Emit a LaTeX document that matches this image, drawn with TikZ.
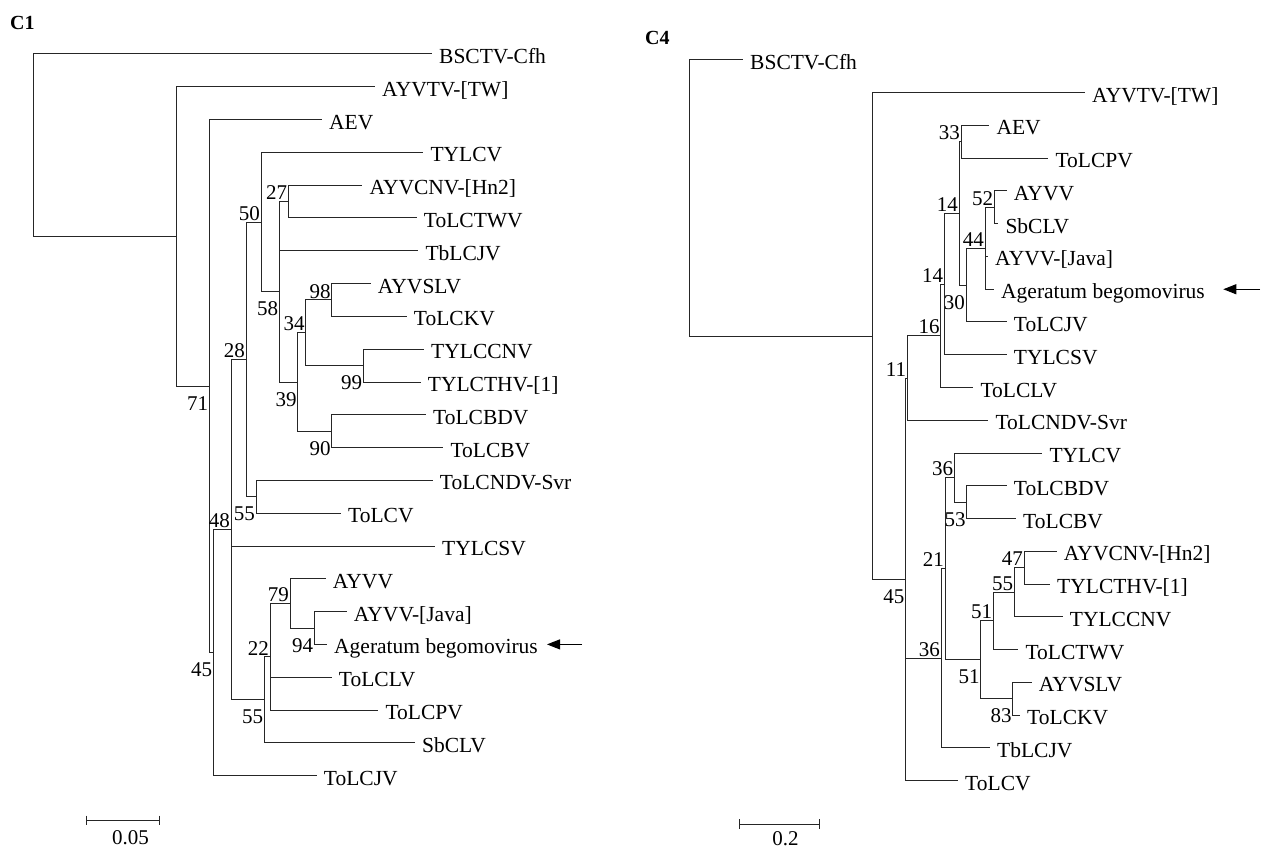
\documentclass[tikz,border=0pt]{standalone}
\usepackage{fontspec}
\setmainfont{Liberation Serif}
\usetikzlibrary{arrows.meta}
\begin{document}
\begin{tikzpicture}[x=1pt,y=-1pt,
 br/.style={draw=black!85, line width=1pt},
 tiplab/.style={anchor=base west, inner xsep=7pt, inner ysep=0pt, yshift=-9.5pt, font=\fontsize{21.5}{24}\selectfont},
 bsa/.style={anchor=south east, inner sep=0pt, xshift=-1pt, yshift=1.5pt, font=\fontsize{21}{24}\selectfont},
 bsb/.style={anchor=north east, inner sep=0pt, xshift=-1pt, yshift=-10pt, font=\fontsize{21}{24}\selectfont},
 ttl/.style={anchor=base west, inner sep=0pt, font=\fontsize{20}{24}\selectfont\bfseries},
 sclab/.style={anchor=base, inner sep=0pt, font=\fontsize{21}{24}\selectfont},
 pointer/.style={draw=black, line width=1pt, -{Triangle[length=13pt,width=10pt]}}]
\useasboundingbox (0,0) rectangle (1261,850);
\newcommand\tipnode[4]{\coordinate (#1) at (#2,#3); \node[tiplab] (#1L) at (#1) {#4};}
% ================= C1 =================
\node[ttl] (titleC1) at (10,30) {C1};
\tipnode{a0}{432}{54.0}{BSCTV-Cfh}
\tipnode{a1}{375}{86.8}{AYVTV-[TW]}
\tipnode{a2}{322}{119.6}{AEV}
\tipnode{a3}{423.3}{152.4}{TYLCV}
\tipnode{a4}{362.3}{185.2}{AYVCNV-[Hn2]}
\tipnode{a5}{416.7}{218.0}{ToLCTWV}
\tipnode{a6}{418.3}{250.8}{TbLCJV}
\tipnode{a7}{370.7}{283.6}{AYVSLV}
\tipnode{a8}{406.7}{316.4}{ToLCKV}
\tipnode{a9}{424}{349.2}{TYLCCNV}
\tipnode{a10}{420.7}{382.0}{TYLCTHV-[1]}
\tipnode{a11}{426}{414.8}{ToLCBDV}
\tipnode{a12}{443.3}{447.6}{ToLCBV}
\tipnode{a13}{432.7}{480.4}{ToLCNDV-Svr}
\tipnode{a14}{341}{513.2}{ToLCV}
\tipnode{a15}{435}{546.0}{TYLCSV}
\tipnode{a16}{325.7}{578.8}{AYVV}
\tipnode{a17}{346.7}{611.6}{AYVV-[Java]}
\tipnode{a18}{327}{644.4}{Ageratum begomovirus}
\tipnode{a19}{331.7}{677.2}{ToLCLV}
\tipnode{a20}{378.3}{710.0}{ToLCPV}
\tipnode{a21}{415}{742.8}{SbCLV}
\tipnode{a22}{316.7}{775.6}{ToLCJV}
\coordinate (N98) at (331.7,300.0);
\coordinate (N99) at (363.3,365.6);
\coordinate (N34) at (305.7,332.8);
\coordinate (N90) at (331.7,431.2);
\coordinate (N39) at (297.7,382.0);
\coordinate (N27) at (288.3,201.6);
\coordinate (N58) at (279.3,291.8);
\coordinate (N50) at (261.0,222.1);
\coordinate (N55a) at (256.0,496.8);
\coordinate (N28) at (246.0,359.45);
\coordinate (N94) at (314.3,628.0);
\coordinate (N79) at (290.0,603.4);
\coordinate (N22) at (270.0,656.7);
\coordinate (N55b) at (264.3,699.75);
\coordinate (N48) at (231.0,529.6);
\coordinate (N45) at (213.3,652.6);
\coordinate (N71) at (209.3,386.1);
\coordinate (NA) at (176.7,236.45);
\coordinate (R1) at (33.5,145.2);
\draw[br] (R1) |- (a0); \draw[br] (R1) |- (NA);
\draw[br] (NA) |- (a1); \draw[br] (NA) |- (N71);
\draw[br] (N71) |- (a2); \draw[br] (N71) |- (N45);
\draw[br] (N45) |- (N48); \draw[br] (N45) |- (a22);
\draw[br] (N48) |- (N28); \draw[br] (N48) |- (a15); \draw[br] (N48) |- (N55b);
\draw[br] (N28) |- (N50); \draw[br] (N28) |- (N55a);
\draw[br] (N50) |- (a3); \draw[br] (N50) |- (N58);
\draw[br] (N58) |- (N27); \draw[br] (N58) |- (a6); \draw[br] (N58) |- (N39);
\draw[br] (N27) |- (a4); \draw[br] (N27) |- (a5);
\draw[br] (N39) |- (N34); \draw[br] (N39) |- (N90);
\draw[br] (N34) |- (N98); \draw[br] (N34) |- (N99);
\draw[br] (N98) |- (a7); \draw[br] (N98) |- (a8);
\draw[br] (N99) |- (a9); \draw[br] (N99) |- (a10);
\draw[br] (N90) |- (a11); \draw[br] (N90) |- (a12);
\draw[br] (N55a) |- (a13); \draw[br] (N55a) |- (a14);
\draw[br] (N55b) |- (N22); \draw[br] (N55b) |- (a21);
\draw[br] (N22) |- (N79); \draw[br] (N22) |- (a19); \draw[br] (N22) |- (a20);
\draw[br] (N79) |- (a16); \draw[br] (N79) |- (N94);
\draw[br] (N94) |- (a17); \draw[br] (N94) |- (a18);
\node[bsb] (b71) at (N71) {71};
\node[bsa] (b50) at (N50) {50};
\node[bsa] (b27) at (N27) {27};
\node[bsb] (b58) at (N58) {58};
\node[bsa] (b34) at (N34) {34};
\node[bsb] (b39) at (N39) {39};
\node[bsa] (b98) at (N98) {98};
\node[bsb] (b99) at (N99) {99};
\node[bsb] (b90) at (N90) {90};
\node[bsb] (b55a) at (N55a) {55};
\node[bsa] (b28) at (N28) {28};
\node[bsa] (b48) at (N48) {48};
\node[bsa] (b79) at (N79) {79};
\node[bsb] (b94) at (N94) {94};
\node[bsa] (b22) at (N22) {22};
\node[bsb] (b55b) at (N55b) {55};
\node[bsb] (b45) at (N45) {45};
\coordinate (arr1s) at (582,644.4);
\coordinate (arr1e) at (547,644.4);
\draw[pointer] (arr1s) -- (arr1e);
\coordinate (sc1a) at (86,820);
\coordinate (sc1b) at (159.3,820);
\draw[br] (sc1a) -- (sc1b);
\draw[br] ([yshift=4.5pt]sc1a) -- ([yshift=-4.5pt]sc1a);
\draw[br] ([yshift=4.5pt]sc1b) -- ([yshift=-4.5pt]sc1b);
\node[sclab] (sc1l) at (130.5,844) {0.05};
% ================= C4 =================
\node[ttl] (titleC4) at (645,45) {C4};
\tipnode{c0}{743}{60}{BSCTV-Cfh}
\tipnode{c1}{1085}{92.75}{AYVTV-[TW]}
\tipnode{c2}{989.3}{125.5}{AEV}
\tipnode{c3}{1048.3}{158.25}{ToLCPV}
\tipnode{c4}{1006.7}{191}{AYVV}
\tipnode{c5}{998.3}{223.75}{SbCLV}
\tipnode{c6}{988}{256.5}{AYVV-[Java]}
\tipnode{c7}{994}{289.25}{Ageratum begomovirus}
\tipnode{c8}{1006.7}{322}{ToLCJV}
\tipnode{c9}{1006.7}{354.75}{TYLCSV}
\tipnode{c10}{973.3}{387.5}{ToLCLV}
\tipnode{c11}{988.3}{420.25}{ToLCNDV-Svr}
\tipnode{c12}{1042.3}{453}{TYLCV}
\tipnode{c13}{1006.7}{485.75}{ToLCBDV}
\tipnode{c14}{1016}{518.5}{ToLCBV}
\tipnode{c15}{1056.7}{551.25}{AYVCNV-[Hn2]}
\tipnode{c16}{1050}{584}{TYLCTHV-[1]}
\tipnode{c17}{1062.7}{616.75}{TYLCCNV}
\tipnode{c18}{1018.3}{649.5}{ToLCTWV}
\tipnode{c19}{1031.7}{682.25}{AYVSLV}
\tipnode{c20}{1020}{715}{ToLCKV}
\tipnode{c21}{990}{747.75}{TbLCJV}
\tipnode{c22}{958}{780.5}{ToLCV}
\coordinate (M33) at (961,141.9);
\coordinate (M52) at (994.3,207.4);
\coordinate (M44) at (985,248.3);
\coordinate (M30) at (966,285.15);
\coordinate (M14u) at (959,213.5);
\coordinate (M14l) at (944.3,284.1);
\coordinate (M16) at (940.7,335.8);
\coordinate (M11) at (907.2,378);
\coordinate (M53) at (966.7,502.1);
\coordinate (M36u) at (954.3,477.6);
\coordinate (M47) at (1024,567.6);
\coordinate (M55) at (1014.3,592.2);
\coordinate (M51u) at (993.3,620.85);
\coordinate (M83) at (1012.7,698.6);
\coordinate (M51l) at (980.7,659.7);
\coordinate (M21) at (945,568.65);
\coordinate (M36l) at (941,658.2);
\coordinate (M45) at (905.5,579.25);
\coordinate (MA) at (872.5,336);
\coordinate (R4) at (689.3,198);
\draw[br] (R4) |- (c0); \draw[br] (R4) |- (MA);
\draw[br] (MA) |- (c1); \draw[br] (MA) |- (M45);
\draw[br] (M45) |- (M11); \draw[br] (M45) |- (M36l); \draw[br] (M45) |- (c22);
\draw[br] (M11) |- (M16); \draw[br] (M11) |- (c11);
\draw[br] (M16) |- (M14l); \draw[br] (M16) |- (c10);
\draw[br] (M14l) |- (M14u); \draw[br] (M14l) |- (c9);
\draw[br] (M14u) |- (M33); \draw[br] (M14u) |- (M30);
\draw[br] (M33) |- (c2); \draw[br] (M33) |- (c3);
\draw[br] (M30) |- (M44); \draw[br] (M30) |- (c8);
\draw[br] (M44) |- (M52); \draw[br] (M44) |- (c6); \draw[br] (M44) |- (c7);
\draw[br] (M52) |- (c4); \draw[br] (M52) |- (c5);
\draw[br] (M36l) |- (M21); \draw[br] (M36l) |- (c21);
\draw[br] (M21) |- (M36u); \draw[br] (M21) |- (M51l);
\draw[br] (M36u) |- (c12); \draw[br] (M36u) |- (M53);
\draw[br] (M53) |- (c13); \draw[br] (M53) |- (c14);
\draw[br] (M51l) |- (M51u); \draw[br] (M51l) |- (M83);
\draw[br] (M51u) |- (M55); \draw[br] (M51u) |- (c18);
\draw[br] (M55) |- (M47); \draw[br] (M55) |- (c17);
\draw[br] (M47) |- (c15); \draw[br] (M47) |- (c16);
\draw[br] (M83) |- (c19); \draw[br] (M83) |- (c20);
\node[bsb] (d45) at (M45) {45};
\node[bsa] (d11) at (M11) {11};
\node[bsa] (d16) at (M16) {16};
\node[bsa] (d14l) at (M14l) {14};
\node[bsa] (d14u) at (M14u) {14};
\node[bsa] (d33) at (M33) {33};
\node[bsa] (d52) at (M52) {52};
\node[bsa] (d44) at (M44) {44};
\node[bsb] (d30) at (M30) {30};
\node[bsa] (d36u) at (M36u) {36};
\node[bsb] (d53) at (M53) {53};
\node[bsa] (d21) at (M21) {21};
\node[bsa] (d47) at (M47) {47};
\node[bsa] (d55) at (M55) {55};
\node[bsa] (d51u) at (M51u) {51};
\node[bsb] (d51l) at (M51l) {51};
\node[bsb] (d83) at (M83) {83};
\node[bsa] (d36l) at (M36l) {36};
\coordinate (arr4s) at (1260,289.25);
\coordinate (arr4e) at (1223.3,289.25);
\draw[pointer] (arr4s) -- (arr4e);
\coordinate (sc4a) at (739.3,824.3);
\coordinate (sc4b) at (819.3,824.3);
\draw[br] (sc4a) -- (sc4b);
\draw[br] ([yshift=5pt]sc4a) -- ([yshift=-5pt]sc4a);
\draw[br] ([yshift=5pt]sc4b) -- ([yshift=-5pt]sc4b);
\node[sclab] (sc4l) at (785.5,845) {0.2};
\end{tikzpicture}
\end{document}
